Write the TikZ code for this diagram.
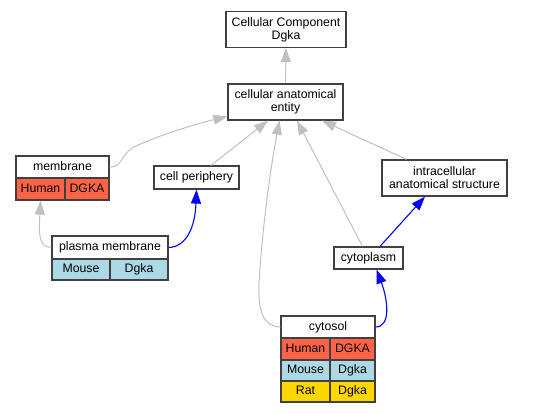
\documentclass[tikz,border=0pt]{standalone}
\usepackage{fontspec}
\setmainfont{Liberation Sans}
\usetikzlibrary{arrows.meta}
\definecolor{edgegray}{HTML}{C0C0C0}
\definecolor{humanc}{HTML}{FF6347}
\definecolor{mousec}{HTML}{ADD8E6}
\definecolor{ratc}{HTML}{FFD700}
\definecolor{boxline}{HTML}{404040}
\tikzset{
  box/.style={draw=boxline, line width=1.2pt, fill=white, inner sep=0pt, align=center,
    font=\fontsize{12.3}{13}\selectfont},
  cell/.style={box, text height=9pt, text depth=2.6pt},
  isa/.style={draw=edgegray, line width=1pt, -{Triangle[length=14pt,width=10pt]}},
  partof/.style={draw=blue, line width=1.1pt, -{Triangle[length=14pt,width=10pt]}},
}
\begin{document}
\begin{tikzpicture}[x=1pt,y=-1pt]
\useasboundingbox (0,0) rectangle (536,413);
% nodes
\node[box, minimum width=120pt, minimum height=36pt] (top) at (286,29.5) {Cellular Component\\Dgka};
\node[box, minimum width=115pt, minimum height=36pt] (cae) at (285.5,102) {cellular anatomical\\entity};
% membrane
\node[cell, minimum width=93pt, minimum height=22pt] (memh) at (62.5,167) {membrane};
\node[cell, fill=humanc, minimum width=49pt, minimum height=22pt] (memA) at (40.5,189) {Human};
\node[cell, fill=humanc, minimum width=44pt, minimum height=22pt] (memB) at (87,189) {DGKA};
% cell periphery
\node[cell, minimum width=85pt, minimum height=23pt] (cp) at (196.5,177.5) {cell periphery};
% intracellular
\node[box, minimum width=125pt, minimum height=36pt] (ic) at (444.5,178) {intracellular\\anatomical structure};
% plasma membrane
\node[cell, minimum width=116pt, minimum height=23pt] (pmh) at (110,247.5) {plasma membrane};
\node[cell, fill=mousec, minimum width=58pt, minimum height=21pt] (pmA) at (81,269.5) {Mouse};
\node[cell, fill=mousec, minimum width=58pt, minimum height=21pt] (pmB) at (139,269.5) {Dgka};
% cytoplasm
\node[cell, minimum width=69pt, minimum height=22pt] (cyto) at (368.5,258) {cytoplasm};
% cytosol
\node[cell, minimum width=94pt, minimum height=22pt] (cyh) at (328,327) {cytosol};
\node[cell, fill=humanc, minimum width=49pt, minimum height=22pt] (cyA1) at (305.5,349) {Human};
\node[cell, fill=humanc, minimum width=45pt, minimum height=22pt] (cyB1) at (352.5,349) {DGKA};
\node[cell, fill=mousec, minimum width=49pt, minimum height=21pt] (cyA2) at (305.5,370.5) {Mouse};
\node[cell, fill=mousec, minimum width=45pt, minimum height=21pt] (cyB2) at (352.5,370.5) {Dgka};
\node[cell, fill=ratc, minimum width=49pt, minimum height=21pt] (cyA3) at (305.5,391.5) {Rat};
\node[cell, fill=ratc, minimum width=45pt, minimum height=21pt] (cyB3) at (352.5,391.5) {Dgka};
% edges
\draw[isa] (cae.north) -- (top.south);
\draw[isa] (memh.east) .. controls (124,167) and (120,153) .. (136,146) .. controls (160,135) and (195,124) .. ([yshift=4pt]cae.south west);
\draw[isa] ([xshift=14.5pt]cp.north) -- ([xshift=-17.5pt]cae.south);
\draw[isa] (cyh.west) .. controls (263,327) and (258,310) .. (259,285) .. controls (261,240) and (270,170) .. ([xshift=-6pt]cae.south);
\draw[isa] ([xshift=-6pt]cyto.north) -- ([xshift=11.5pt]cae.south);
\draw[isa] ([xshift=-38pt]ic.north) -- ([xshift=36.5pt]cae.south);
\draw[isa] (pmh.west) .. controls (38,247) and (39,232) .. (memA.south);
\draw[partof] (pmh.east) .. controls (186,247) and (195,228) .. (cp.south);
\draw[partof] ([xshift=11.5pt]cyto.north) -- ([xshift=-19.5pt]ic.south);
\draw[partof] (cyh.east) .. controls (391,327) and (388,300) .. ([xshift=8pt]cyto.south);
\end{tikzpicture}
\end{document}
